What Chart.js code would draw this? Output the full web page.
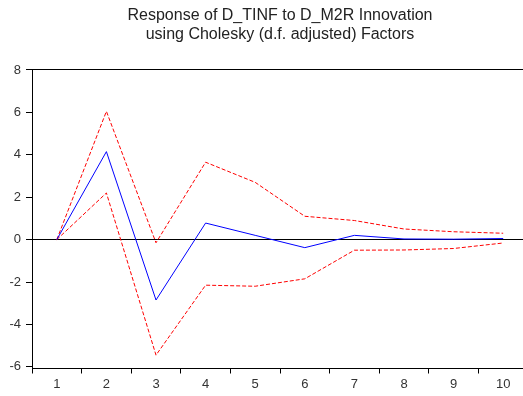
<!DOCTYPE html>
<html>
<head>
<meta charset="utf-8">
<script src="https://cdn.jsdelivr.net/npm/chart.js@4/dist/chart.umd.min.js"></script>
<style>
  html, body { margin: 0; padding: 0; background: #fff; overflow: hidden; }
  #wrap { width: 528px; height: 396px; position: relative; }
</style>
</head>
<body>
<div id="wrap"><canvas id="c"></canvas></div>
<script>
const periods = ['1','2','3','4','5','6','7','8','9','10'];
const response = [0, 4.15, -2.85, 0.78, 0.2, -0.38, 0.2, 0.03, 0.02, 0.05];
const upperBand = [0, 6.05, -0.15, 3.65, 2.7, 1.1, 0.9, 0.5, 0.37, 0.3];
const lowerBand = [0, 2.2, -5.45, -2.15, -2.2, -1.85, -0.5, -0.49, -0.42, -0.16];
const yTicks = [-6, -4, -2, 0, 2, 4, 6, 8];
const titleLines = ['Response of D_TINF to D_M2R Innovation', 'using Cholesky (d.f. adjusted) Factors'];

const font = { family: "'Liberation Sans', Arial, sans-serif", size: 13 };

new Chart(document.getElementById('c'), {
  type: 'line',
  data: {
    labels: periods,
    datasets: [
      { data: response, borderColor: '#0000ff', borderWidth: 1, pointRadius: 0, tension: 0, fill: false },
      { data: upperBand, borderColor: '#ff0000', borderWidth: 1, borderDash: [4, 2], pointRadius: 0, tension: 0, fill: false },
      { data: lowerBand, borderColor: '#ff0000', borderWidth: 1, borderDash: [4, 2], pointRadius: 0, tension: 0, fill: false }
    ]
  },
  options: {
    responsive: true,
    maintainAspectRatio: false,
    animation: false,
    layout: { padding: { left: 0, right: 0, top: 0, bottom: 0 } },
    plugins: {
      legend: { display: false },
      tooltip: { enabled: false },
      title: {
        display: true,
        fullSize: false,
        text: titleLines,
        color: '#222',
        font: { family: "'Liberation Sans', Arial, sans-serif", size: 16, weight: 'normal', lineHeight: 1.156 },
        padding: { top: 6.4, bottom: 26.6 }
      }
    },
    scales: {
      x: {
        type: 'category',
        offset: true,
        grid: {
          offset: true,
          drawOnChartArea: false,
          color: '#000',
          tickColor: '#000',
          tickLength: 5,
          lineWidth: 1
        },
        border: { display: true, color: '#000', width: 1 },
        ticks: { color: '#333', font: font, padding: 3, maxRotation: 0, autoSkip: false },
        afterFit: (s) => { s.height = 27.5; }
      },
      y: {
        type: 'linear',
        min: -6.08,
        max: 8,
        afterBuildTicks: (s) => { s.ticks = yTicks.map(v => ({ value: v })); },
        grid: {
          drawOnChartArea: true,
          color: (ctx) => (ctx.tick && (ctx.tick.value === 0 || ctx.tick.value === 8)) ? '#000' : 'rgba(0,0,0,0)',
          tickColor: '#000',
          tickLength: 6,
          lineWidth: 1
        },
        border: { display: true, color: '#000', width: 1 },
        ticks: { color: '#333', font: font, padding: 5 },
        afterFit: (s) => { s.width = 32; }
      }
    }
  }
});
</script>
</body>
</html>
